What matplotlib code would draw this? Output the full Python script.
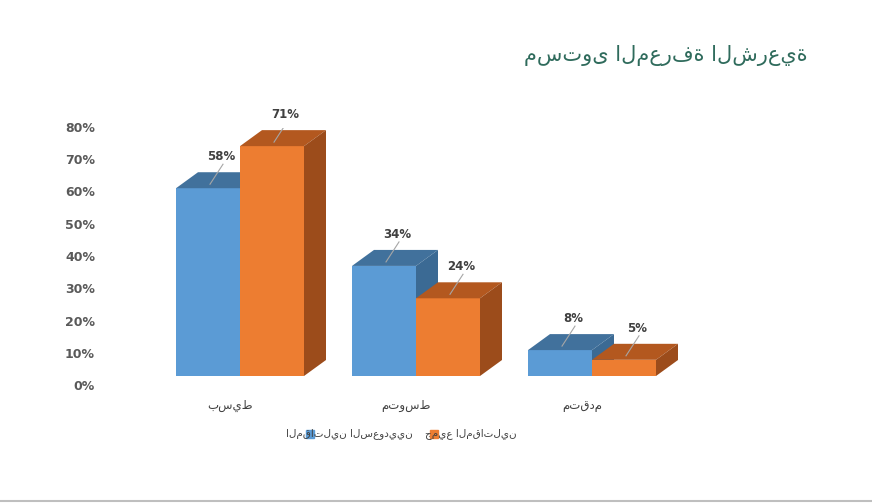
import matplotlib.pyplot as plt
from matplotlib.patches import Polygon

categories = ["بسيط", "متوسط", "متقدم"]
saudi = [58, 34, 8]
all_fighters = [71, 24, 5]
series_names = ["المقاتلين السعوديين", "جميع المقاتلين"]
yticks = [0, 10, 20, 30, 40, 50, 60, 70, 80]

W, H = 872, 504
fig = plt.figure(figsize=(W / 100, H / 100), dpi=100)

# axes placed in pixel terms: 0% at y=387, 80% at y=128; group spacing 176px
px_per_unit = 176.0
x0_px, x1_px = 100, 760
ax = fig.add_axes([x0_px / W, (H - 387) / H, (x1_px - x0_px) / W, (387 - 128) / H])
ax.set_xlim((x0_px - 240) / px_per_unit, (x1_px - 240) / px_per_unit)
ax.set_ylim(0, 80)
ax.axis("off")

ppy = (387 - 128) / 80.0
bw = 64 / px_per_unit
dx = 22 / px_per_unit
dy = 16 / ppy
base = 11 / ppy

faces = {
    0: ("#5b9bd5", "#41719c", "#3b6a94"),
    1: ("#ed7d31", "#b3581f", "#9c4c1b"),
}

for i, cat in enumerate(categories):
    for s, vals in enumerate([saudi, all_fighters]):
        v = vals[i]
        front, top, side = faces[s]
        xl = i + (s - 1) * bw
        xr = xl + bw
        yb, yt = base, base + v
        ax.add_patch(Polygon([(xl, yb), (xr, yb), (xr, yt), (xl, yt)], color=front, lw=0))
        ax.add_patch(Polygon([(xl, yt), (xr, yt), (xr + dx, yt + dy), (xl + dx, yt + dy)], color=top, lw=0))
        ax.add_patch(Polygon([(xr, yb), (xr + dx, yb + dy), (xr + dx, yt + dy), (xr, yt)], color=side, lw=0))
        cx = xl + bw / 2 + dx / 2 + 4 / px_per_unit
        ty = yt + dy + 8 / ppy
        ax.plot([xl + bw / 2 + 2 / px_per_unit, cx], [yt + 4 / ppy, ty], color="#a6a6a6", lw=0.8)
        ax.text(cx - 2 / px_per_unit, ty + 1 / ppy, f"{v}%", ha="center", va="bottom", fontsize=8.5,
                fontweight="bold", color="#404040")
    ax.text(i - 10 / px_per_unit, -18 / ppy, cat, ha="center", va="center",
            fontsize=8.5, color="#404040")

for t in yticks:
    ax.text((95 - 240) / px_per_unit, t, f"{t}%", ha="right", va="center",
            fontsize=9, fontweight="bold", color="#595959")

# legend
fig.patches.append(plt.Rectangle((306 / W, 1 - 438 / H), 8 / W, 8 / H,
                                 transform=fig.transFigure, color=faces[0][0]))
fig.text(413 / W, 1 - 434 / H, series_names[0], ha="right", va="center",
         fontsize=7.5, color="#404040")
fig.patches.append(plt.Rectangle((430 / W, 1 - 438 / H), 8 / W, 8 / H,
                                 transform=fig.transFigure, color=faces[1][0]))
fig.text(517 / W, 1 - 434 / H, series_names[1], ha="right", va="center",
         fontsize=7.5, color="#404040")

fig.text(808 / W, 1 - 55 / H, "مستوى المعرفة الشرعية", ha="right", va="center",
         fontsize=15, color="#2f6b5c")

fig.add_artist(plt.Line2D([0, 1], [1 - 501 / H] * 2, transform=fig.transFigure,
                          color="#bfbfbf", lw=1.5))

fig.savefig("out.png", dpi=100)
